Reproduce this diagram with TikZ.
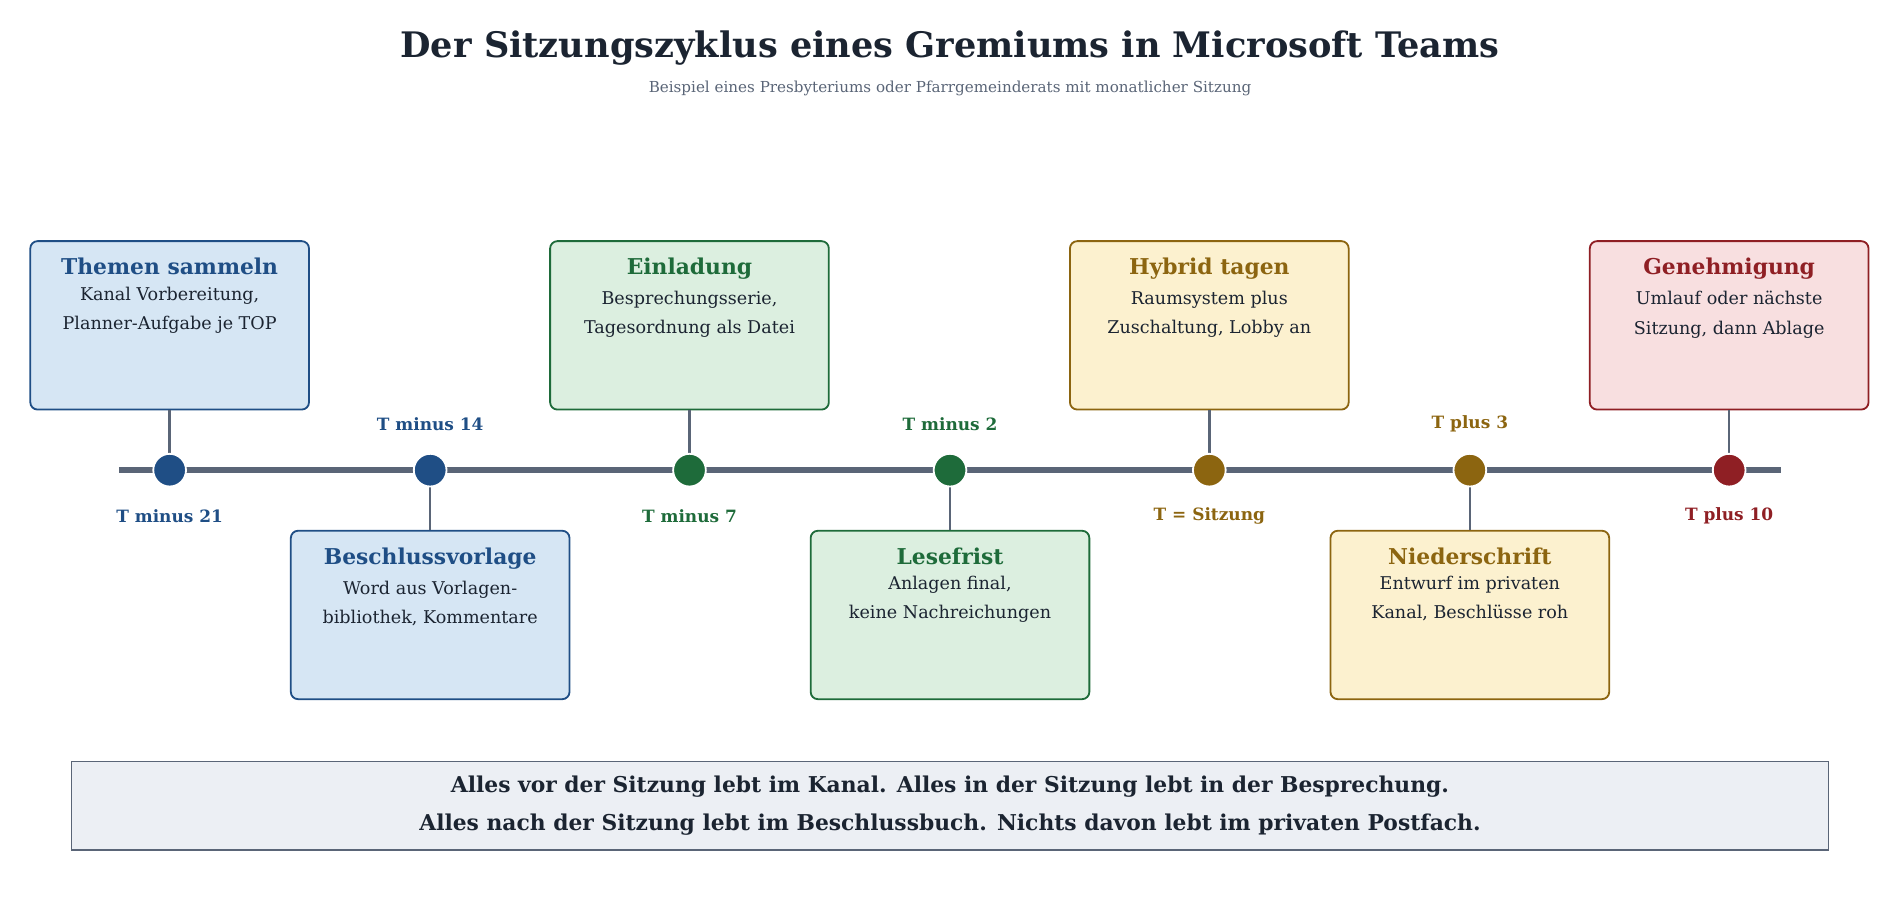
\documentclass[tikz,border=0pt]{standalone}
\usepackage{fontspec}
\setmainfont{DejaVu Serif}
\usetikzlibrary{positioning}
\definecolor{bluD}{HTML}{1F4E85}\definecolor{bluL}{HTML}{D6E6F4}
\definecolor{grnD}{HTML}{1E6B3A}\definecolor{grnL}{HTML}{DCEFE0}
\definecolor{gldD}{HTML}{8C6510}\definecolor{gldL}{HTML}{FCF1CF}
\definecolor{redD}{HTML}{8F1F24}\definecolor{redL}{HTML}{F8DFE0}
\definecolor{axis}{HTML}{5A6577}\definecolor{ink}{HTML}{1B2431}
\definecolor{note}{HTML}{ECEFF4}
\tikzset{
  box/.style={draw=#1D, fill=#1L, rounded corners=6pt, line width=1.5pt, minimum width=230pt, minimum height=139pt},
  head/.style={text=#1D, font=\fontsize{18}{22}\selectfont\bfseries},
  body/.style={text=ink, font=\fontsize{14.5}{24}\selectfont, align=center},
  dot/.style={circle, fill=#1D, draw=white, line width=1.5pt, minimum size=27pt, inner sep=0pt},
  lbl/.style={text=#1D, font=\fontsize{14}{17}\selectfont\bfseries},
  stem/.style={axis, line width=2pt}
}
\begin{document}
\begin{tikzpicture}[x=1pt,y=-1pt]
\useasboundingbox (0,0) rectangle (1568,742);
\node (title) [text=ink, font=\fontsize{29}{35}\selectfont\bfseries] at (784,40) {Der Sitzungszyklus eines Gremiums in Microsoft Teams};
\node (sub) [text=axis, font=\fontsize{12.5}{15}\selectfont] at (784,73) {Beispiel eines Presbyteriums oder Pfarrgemeinderats mit monatlicher Sitzung};
\coordinate (tl) at (98,388);
\coordinate (tr) at (1470,388);
\draw [axis, line width=5pt] (tl) -- (tr);
\foreach \n/\x/\s/\col/\t/\b/\l in {
  1/140/1/blu/{Themen sammeln}/{Kanal Vorbereitung,\\Planner-Aufgabe je TOP}/{T minus 21},
  2/355/-1/blu/{Beschlussvorlage}/{Word aus Vorlagen-\\bibliothek, Kommentare}/{T minus 14},
  3/569/1/grn/{Einladung}/{Besprechungsserie,\\Tagesordnung als Datei}/{T minus 7},
  4/784/-1/grn/{Lesefrist}/{Anlagen final,\\keine Nachreichungen}/{T minus 2},
  5/998/1/gld/{Hybrid tagen}/{Raumsystem plus\\Zuschaltung, Lobby an}/{T = Sitzung},
  6/1213/-1/gld/{Niederschrift}/{Entwurf im privaten\\Kanal, Beschlüsse roh}/{T plus 3},
  7/1427/1/red/{Genehmigung}/{Umlauf oder nächste\\Sitzung, dann Ablage}/{T plus 10}}{
  \node (b\n) [box=\col] at (\x,{388-119.5*\s}) {};
  \node (h\n) [head=\col, below=11pt of b\n.north] {\t};
  \node (t\n) [body, below=3pt of h\n] {\b};
  \draw [stem] (b\n) -- (\x,388);
  \node (d\n) [dot=\col] at (\x,388) {};
  \node (l\n) [lbl=\col] at (\x,{388+38*\s}) {\l};
}
\node (msg) [draw=axis, fill=note, line width=1pt, minimum width=1450pt, minimum height=73pt, align=center,
  text=ink, font=\fontsize{18}{31}\selectfont\bfseries] at (784,665)
  {Alles vor der Sitzung lebt im Kanal. Alles in der Sitzung lebt in der Besprechung.\\
   Alles nach der Sitzung lebt im Beschlussbuch. Nichts davon lebt im privaten Postfach.};
\end{tikzpicture}
\end{document}
